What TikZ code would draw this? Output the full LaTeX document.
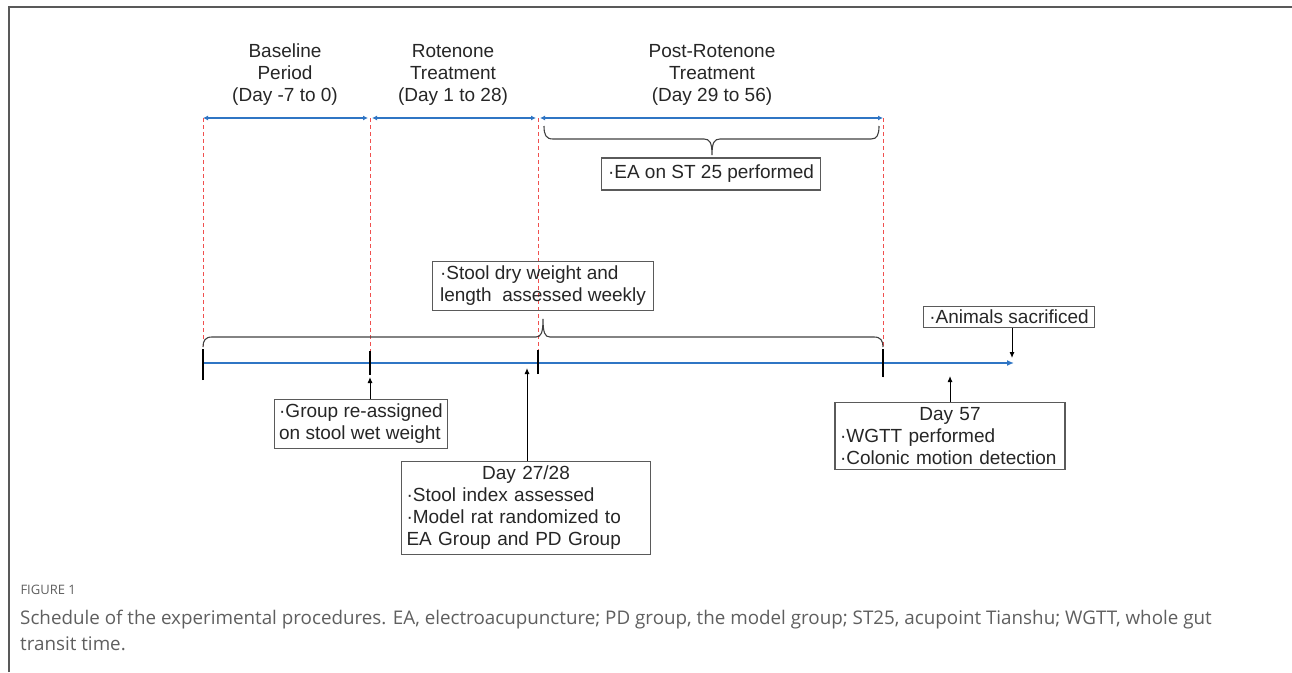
\documentclass[tikz,border=0pt]{standalone}
\usepackage{fontspec}
\setmainfont{Liberation Sans}
\newfontfamily\capfont{Open Sans}
\usetikzlibrary{arrows.meta,positioning}
\definecolor{LineBlue}{HTML}{2F75C4}
\definecolor{DashRed}{HTML}{F0504F}
\definecolor{BoxGray}{HTML}{5A5A5A}
\definecolor{CapGray}{HTML}{5F5F5F}

\begin{document}
\begin{tikzpicture}[x=1pt,y=-1pt,
    font=\fontsize{19}{22}\selectfont,
    period/.style={align=center,text=black!85},
    box/.style={draw=BoxGray,line width=1.1pt,align=left,inner sep=5pt,text=black!85},
    span/.style={{Latex[length=5pt,width=5pt]}-{Latex[length=5pt,width=5pt]},draw=LineBlue,line width=1.6pt},
    tline/.style={-{Latex[length=7pt,width=6pt]},draw=LineBlue,line width=1.8pt},
    guide/.style={draw=DashRed,dashed,dash pattern=on 4pt off 3pt,line width=1pt},
    tick/.style={draw=black,line width=1.6pt},
    arr/.style={-{Latex[length=6pt,width=5pt]},draw=black,line width=1pt},
    brc/.style={draw=black!75,line width=1.1pt},
  ]
    \useasboundingbox (0,0) rectangle (1292,672);
    % frame
    \draw[black!65,line width=1.5pt] (9,672) -- (9,7) -- (1292,7);

    % period headings
    \node[period] (base) at (285,75) {Baseline\\Period\\(Day -7 to 0)};
    \node[period] (rot) at (453,75) {Rotenone\\Treatment\\(Day 1 to 28)};
    \node[period] (post) at (712,75) {Post-Rotenone\\Treatment\\(Day 29 to 56)};

    % period spans
    \coordinate (p0) at (203,118);
    \coordinate (p1) at (370,118);
    \coordinate (p2) at (538,118);
    \coordinate (p3) at (883,118);
    \draw[span] (p0) -- ([xshift=-2pt]p1);
    \draw[span] ([xshift=2pt]p1) -- ([xshift=-2pt]p2);
    \draw[span] ([xshift=2pt]p2) -- (p3);

    % timeline
    \coordinate (t0) at (203,363);
    \coordinate (t1) at (370,363);
    \coordinate (t2) at (538,363);
    \coordinate (t3) at (883,363);
    \coordinate (tend) at (1014,363);
    \draw[guide] (p0) -- ([yshift=-16pt]t0);
    \draw[guide] (p1) -- ([yshift=-12pt]t1);
    \draw[guide] (p2) -- ([yshift=-11pt]t2);
    \draw[guide] (p3) -- ([yshift=-14pt]t3);
    \draw[tline] (t0) -- (tend);
    \draw[tick] ([yshift=-17pt]t0) -- ([yshift=14pt]t0);
    \draw[tick] ([yshift=-12pt]t1) -- ([yshift=12pt]t1);
    \draw[tick] ([yshift=-11pt]t2) -- ([yshift=13pt]t2);
    \draw[tick] ([yshift=-14pt]t3) -- ([yshift=14pt]t3);

    % braces
    \draw[brc] (544,126) .. controls (544,135) and (546,139) .. (553,139) -- (704,139)
      .. controls (710,139) and (712,143) .. (712,155) .. controls (712,143) and (714,139) .. (720,139)
      -- (871,139) .. controls (877,139) and (879,135) .. (879,126);
    \draw[brc] (203,347) .. controls (203,341) and (205,337) .. (212,337) -- (536,337)
      .. controls (541,337) and (543,333) .. (543,319) .. controls (543,333) and (545,337) .. (550,337)
      -- (874,337) .. controls (881,337) and (883,341) .. (883,347);

    % boxes
    \node[box,minimum width=219pt,minimum height=32pt] (ea) at (711,174) {·EA on ST 25 performed};
    \node[box,minimum width=221pt] (weekly) at (543,286) {·Stool dry weight and\\length\ \ assessed weekly};
    \node[box,inner xsep=6pt,inner ysep=3.5pt] (sacr) at (1009,317) {·Animals sacrificed};
    \node[box] (regroup) at (361,424) {·Group re-assigned\\on stool wet weight};
    \node[box,text width=239pt] (d27) at (526,508) {\makebox[239pt][c]{Day 27/28}\\·Stool index assessed\\·Model rat randomized to\\EA Group and PD Group};
    \node[box,text width=220pt] (d57) at (950,436) {\makebox[220pt][c]{Day 57}\\·WGTT performed\\·Colonic motion detection};

    % event arrows
    \coordinate (a1) at (370,377);
    \coordinate (a2) at (527,368);
    \coordinate (a3) at (950,376);
    \coordinate (a4) at (1012,358);
    \draw[arr] (regroup.north -| a1) -- (a1);
    \draw[arr] (d27.north -| a2) -- (a2);
    \draw[arr] (d57.north -| a3) -- (a3);
    \draw[arr] (sacr.south -| a4) -- (a4);

    % caption
    \node[anchor=west,text=CapGray,font=\capfont\fontsize{13}{15}\selectfont] (fig) at (17,590) {FIGURE 1};
    \node[anchor=north west,text=CapGray,align=left,font=\capfont\fontsize{18.8}{26}\selectfont,inner sep=0pt] (cap) at (20,610)
      {Schedule of the experimental procedures. EA, electroacupuncture; PD group, the model group; ST25, acupoint Tianshu; WGTT, whole gut\\transit time.};
\end{tikzpicture}
\end{document}
